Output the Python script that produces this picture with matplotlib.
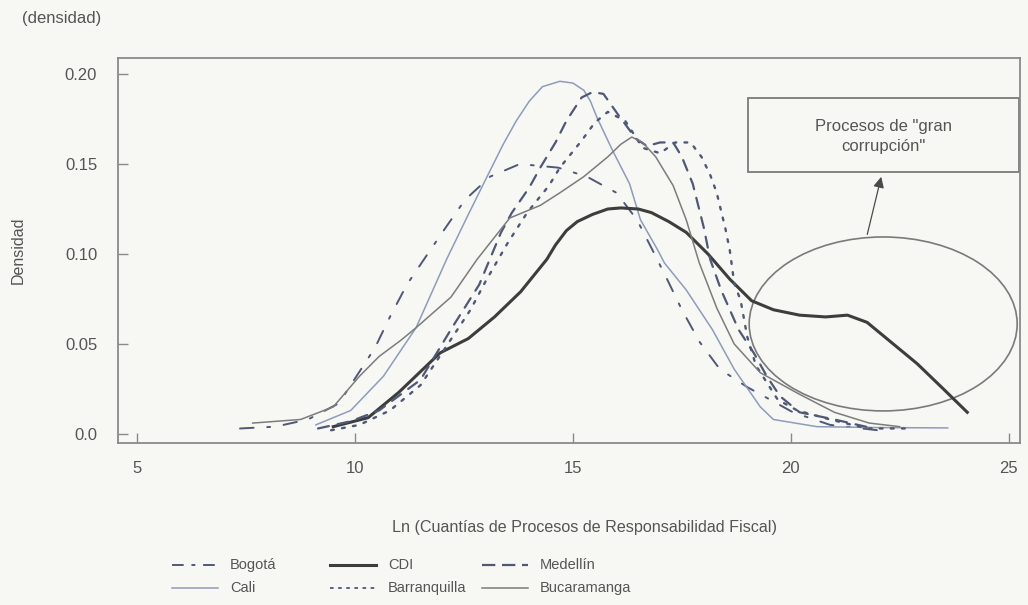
import matplotlib
matplotlib.use("Agg")
from matplotlib import pyplot as plt
from matplotlib.lines import Line2D
from matplotlib.patches import Ellipse, Rectangle

plt.rcParams['font.family'] = ['Liberation Sans', 'DejaVu Sans']

# densidades estimadas por ciudad (x = ln de la cuantía)
bogota_x = [7.36, 8.17, 8.92, 9.63, 10.46, 10.8, 11.19, 11.61, 12.06, 12.52, 13.1, 13.78,
            14.66, 15.32, 16.0, 16.47, 16.83, 17.16, 17.5, 17.91, 18.37, 19.0, 20.05, 20.9, 22.0]
bogota_y = [0.003, 0.004, 0.008, 0.017, 0.048, 0.065, 0.083, 0.098, 0.114, 0.130, 0.143, 0.150,
            0.148, 0.143, 0.134, 0.119, 0.102, 0.086, 0.069, 0.051, 0.036, 0.026, 0.012, 0.005, 0.002]

cali_x = [9.1, 9.9, 10.65, 11.4, 12.1, 12.6, 13.05, 13.4, 13.7, 14.0, 14.3, 14.7, 15.0, 15.25,
          15.4, 15.55, 15.9, 16.3, 16.55, 16.95, 17.1, 17.6, 18.2, 18.7, 19.3, 19.6, 20.6, 22.0,
          23.6]
cali_y = [0.005, 0.013, 0.032, 0.059, 0.097, 0.122, 0.144, 0.161, 0.174, 0.185, 0.193, 0.196,
          0.195, 0.191, 0.185, 0.176, 0.158, 0.139, 0.119, 0.102, 0.095, 0.080, 0.058, 0.036,
          0.015, 0.008, 0.004, 0.0035, 0.0033]

cdi_x = [9.5, 10.3, 11.0, 11.95, 12.6, 13.2, 13.8, 14.4, 14.6, 14.85, 15.1, 15.45, 15.8, 16.1,
         16.5, 16.8, 17.2, 17.6, 18.1, 18.6, 19.1, 19.6, 20.2, 20.8, 21.3, 21.75, 22.3, 22.9,
         23.5, 24.05]
cdi_y = [0.004, 0.009, 0.023, 0.045, 0.053, 0.065, 0.079, 0.097, 0.105, 0.113, 0.118, 0.122,
         0.125, 0.1256, 0.125, 0.123, 0.118, 0.112, 0.100, 0.086, 0.074, 0.069, 0.066, 0.065,
         0.066, 0.062, 0.051, 0.039, 0.025, 0.012]

barranquilla_x = [9.45, 10.1, 10.8, 11.5, 12.05, 12.65, 13.0, 13.5, 13.95, 14.45, 14.7, 15.2,
                  15.5, 15.8, 16.2, 16.6, 17.0, 17.35, 17.7, 17.95, 18.15, 18.3, 18.5, 18.6,
                  18.7, 18.85, 19.0, 19.2, 19.7, 20.15, 20.9, 21.75, 22.8]
barranquilla_y = [0.002, 0.005, 0.013, 0.027, 0.047, 0.069, 0.085, 0.106, 0.123, 0.138, 0.148,
                  0.163, 0.173, 0.179, 0.174, 0.159, 0.156, 0.162, 0.162, 0.154, 0.144, 0.134,
                  0.114, 0.102, 0.084, 0.074, 0.054, 0.038, 0.019, 0.013, 0.008, 0.003, 0.003]

medellin_x = [9.15, 9.9, 10.55, 11.5, 12.2, 12.85, 13.35, 13.6, 14.0, 14.25, 14.6, 14.85, 15.2,
              15.45, 15.7, 16.05, 16.45, 16.7, 17.0, 17.3, 17.5, 17.75, 18.0, 18.15, 18.4, 18.8,
              19.15, 19.45, 19.75, 20.2, 21.0, 21.9]
medellin_y = [0.003, 0.007, 0.013, 0.030, 0.058, 0.083, 0.112, 0.123, 0.137, 0.148, 0.162,
              0.174, 0.187, 0.190, 0.189, 0.177, 0.164, 0.160, 0.162, 0.162, 0.154, 0.139,
              0.115, 0.097, 0.080, 0.058, 0.045, 0.032, 0.021, 0.012, 0.008, 0.003]

bucaramanga_x = [7.65, 8.75, 9.5, 10.1, 10.55, 11.05, 11.4, 12.2, 12.8, 13.55, 14.25, 14.7,
                 15.25, 15.8, 16.1, 16.35, 16.6, 16.9, 17.3, 17.6, 17.9, 18.3, 18.7, 19.3, 20.2,
                 21.0, 21.8, 22.5]
bucaramanga_y = [0.006, 0.008, 0.015, 0.032, 0.043, 0.052, 0.059, 0.076, 0.097, 0.120, 0.127,
                 0.134, 0.143, 0.154, 0.161, 0.165, 0.162, 0.154, 0.138, 0.119, 0.095, 0.070,
                 0.050, 0.034, 0.022, 0.012, 0.006, 0.004]

xticks = [5, 10, 15, 20, 25]
yticks = [0.0, 0.05, 0.10, 0.15, 0.20]
ytick_labels = ["0.0", "0.05", "0.10", "0.15", "0.20"]

bg = "#f7f8f3"
txt = "#555555"
blue_dark = "#4f5877"

fig = plt.figure(figsize=(10.28, 6.05), dpi=100, facecolor=bg)
ax = fig.add_axes([0.1148, 0.268, 0.877, 0.636])
ax.set_facecolor(bg)

series = [
    ("Bogotá", bogota_x, bogota_y, dict(color=blue_dark, lw=1.4, ls=(0, (7, 7, 1.5, 7)))),
    ("Cali", cali_x, cali_y, dict(color="#8d9bbd", lw=1.1, ls="-")),
    ("CDI", cdi_x, cdi_y, dict(color="#3d3d3d", lw=2.2, ls="-")),
    ("Barranquilla", barranquilla_x, barranquilla_y, dict(color=blue_dark, lw=1.7, ls=(0, (1.2, 3.5)))),
    ("Medellín", medellin_x, medellin_y, dict(color=blue_dark, lw=1.6, ls=(0, (5, 4)))),
    ("Bucaramanga", bucaramanga_x, bucaramanga_y, dict(color="#7c7c7c", lw=1.1, ls="-")),
]

for name, xs, ys, st in series:
    ax.plot(xs, ys, solid_joinstyle="round", dash_capstyle="round", **st)

# zona de "gran corrupción"
ax.add_patch(Ellipse((22.12, 0.0611), 6.15, 0.0967, fill=False, ec="#7a7a7a", lw=1.2))
ax.add_patch(Rectangle((19.01, 0.1456), 6.22, 0.0411, fill=False, ec="#7a7a7a", lw=1.3))
ax.text(22.12, 0.1655, 'Procesos de "gran\ncorrupción"', ha="center", va="center",
        fontsize=12, color=txt, linespacing=1.4)
ax.annotate("", xy=(22.09, 0.1444), xytext=(21.74, 0.1094),
            arrowprops=dict(arrowstyle="-|>", color="#4a4a4a", lw=0.9, mutation_scale=16))

ax.set_xlim(4.56, 25.25)
ax.set_ylim(-0.005, 0.2089)
ax.set_xticks(xticks)
ax.set_xticklabels([str(t) for t in xticks])
ax.set_yticks(yticks)
ax.set_yticklabels(ytick_labels)
ax.tick_params(direction="in", length=7, width=1, color="#8a8a8a", labelcolor=txt, labelsize=12)
ax.tick_params(axis="y", pad=15)
ax.tick_params(axis="x", pad=13)
for s in ax.spines.values():
    s.set_color("#8a8a8a")
    s.set_linewidth(1.3)

ax.set_ylabel("Densidad", fontsize=11.5, color=txt)
ax.yaxis.set_label_coords(-0.102, 0.5)
ax.set_xlabel("Ln (Cuantías de Procesos de Responsabilidad Fiscal)", fontsize=11.6, color=txt)
ax.xaxis.set_label_coords(0.517, -0.200)

fig.text(22 / 1028, 1 - 18 / 605, "(densidad)", fontsize=12, color=txt, ha="left", va="center")

# leyenda en tres columnas, dos filas
W, H = 1028.0, 605.0
legend_order = ["Bogotá", "CDI", "Medellín", "Cali", "Barranquilla", "Bucaramanga"]
styles = {name: st for name, _, _, st in series}
legend_styles = dict(styles)
legend_styles["Medellín"] = dict(styles["Medellín"], ls=(0, (6, 3)))
legend_styles["Bogotá"] = dict(styles["Bogotá"], ls=(0, (6, 4, 2, 4)))
legend_styles["Barranquilla"] = dict(styles["Barranquilla"], ls=(0, (2, 2.5)), lw=1.3)
col_x = [172, 330, 482]
row_y = [565, 588]
for i, name in enumerate(legend_order):
    cx = col_x[i % 3]
    ry = row_y[i // 3]
    fig.add_artist(Line2D([cx / W, (cx + 46) / W], [1 - ry / H, 1 - ry / H],
                          transform=fig.transFigure, **legend_styles[name]))
    fig.text((cx + 58) / W, 1 - ry / H, name, fontsize=10.5, color=txt, ha="left", va="center")

fig.savefig("out.png", dpi=100, facecolor=bg)
